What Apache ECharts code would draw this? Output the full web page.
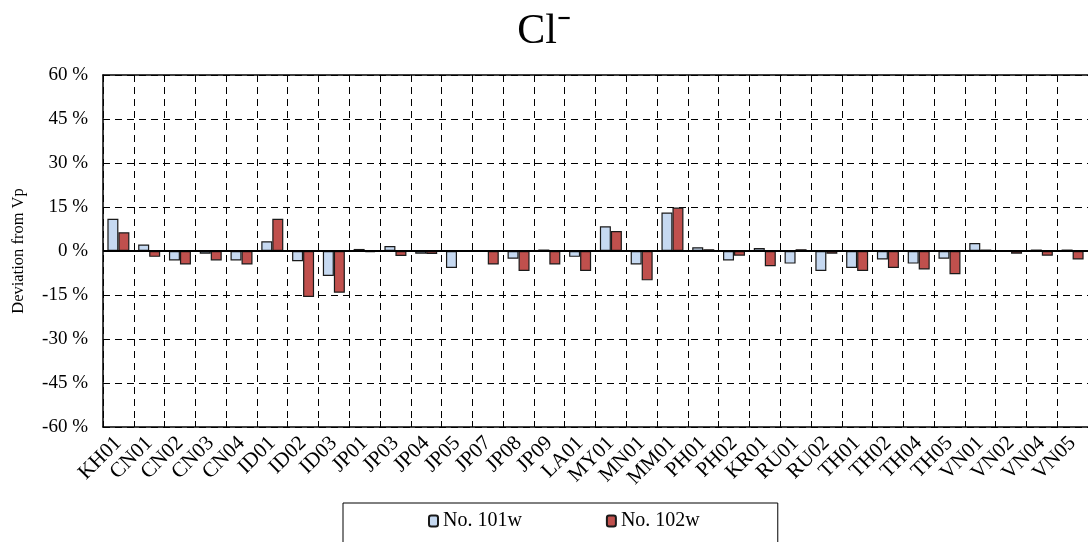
<!DOCTYPE html>
<html><head><meta charset="utf-8">
<script src="https://cdn.jsdelivr.net/npm/echarts@6/dist/echarts.min.js"></script>
<style>html,body{margin:0;padding:0;background:#fff}#c{width:1088px;height:542px}</style>
</head><body><div id="c"></div>
<script>
const categories = ["KH01","CN01","CN02","CN03","CN04","ID01","ID02","ID03","JP01","JP03","JP04","JP05","JP07","JP08","JP09","LA01","MY01","MN01","MM01","PH01","PH02","KR01","RU01","RU02","TH01","TH02","TH04","TH05","VN01","VN02","VN04","VN05"];
const no101w = [11.0, 2.2, -3.2, -0.9, -3.2, 3.3, -3.5, -8.5, 0.7, 1.7, -0.9, -5.8, -0.3, -2.6, 0.5, -2.0, 8.4, -4.6, 13.1, 1.3, -3.2, 1.0, -4.3, -6.8, -5.8, -2.9, -4.3, -2.6, 2.7, -0.3, 0.5, 0.5];
const no102w = [6.4, -2.0, -4.6, -3.2, -4.6, 11.0, -15.7, -14.2, -0.4, -1.7, -1.0, -0.1, -4.6, -6.8, -4.6, -6.8, 6.8, -10.0, 14.8, 0.6, -1.6, -5.2, 0.6, -0.9, -6.8, -5.8, -6.3, -7.9, 0.5, -0.9, -1.6, -2.9];
const seriesNames = ["No. 101w", "No. 102w"];
const yMin = -60, yMax = 60, yStep = 15;

const serif = "'Liberation Serif','Times New Roman',serif";
const chart = echarts.init(document.getElementById('c'));
chart.setOption({
  animation: false,
  backgroundColor: '#fff',
  title: {
    text: 'Cl⁻',
    left: 'center',
    top: 6,
    textStyle: {fontFamily: serif, fontSize: 42, fontWeight: 'normal', color: '#000'}
  },
  legend: {
    data: seriesNames,
    left: 343,
    top: 503,
    padding: [8, 78, 30, 85],
    itemGap: 84,
    itemWidth: 9,
    itemHeight: 11,
    borderColor: '#000',
    borderWidth: 1,
    backgroundColor: '#fff',
    textStyle: {fontFamily: serif, fontSize: 20, color: '#000'}
  },
  grid: {
    left: 103, top: 75, right: -3, height: 352, show: false
  },
  xAxis: [{
    type: 'category',
    data: categories,
    position: 'bottom',
    axisLine: {show: true, onZero: false, lineStyle: {color: '#000', width: 1.5}},
    axisTick: {show: true, inside: true, length: 6, lineStyle: {color: '#000'}},
    splitLine: {show: true, interval: 0, lineStyle: {color: '#000', type: [7, 5], width: 1}},
    axisLabel: {interval: 0, rotate: 45, margin: 13, fontFamily: serif, fontSize: 21, color: '#000'}
  }, {
    type: 'category',
    data: categories,
    position: 'top',
    axisLine: {show: true, onZero: false, lineStyle: {color: '#000', width: 1.5}},
    axisTick: {show: false},
    axisLabel: {show: false},
    splitLine: {show: false}
  }],
  yAxis: {
    type: 'value',
    min: yMin, max: yMax, interval: yStep,
    name: 'Deviation from Vp',
    nameLocation: 'middle',
    nameGap: 76,
    nameRotate: 90,
    nameTextStyle: {fontFamily: serif, fontSize: 16.5, color: '#000'},
    axisLine: {show: true, lineStyle: {color: '#000', width: 1.5}},
    axisTick: {show: false},
    splitLine: {show: true, lineStyle: {color: '#000', type: [7, 5], width: 1}},
    axisLabel: {formatter: '{value} %', margin: 15, fontFamily: serif, fontSize: 19, color: '#000'}
  },
  series: [
    {
      name: seriesNames[0], type: 'bar', data: no101w,
      barWidth: 11, barGap: '0%',
      itemStyle: {color: '#c6d9f1', borderColor: '#1a1a1a', borderWidth: 1.2},
      markLine: {
        silent: true, symbol: 'none', label: {show: false},
        lineStyle: {color: '#000', type: 'solid', width: 2},
        data: [{yAxis: 0}]
      },
      z: 3
    },
    {
      name: seriesNames[1], type: 'bar', data: no102w,
      barWidth: 11, barGap: '0%',
      itemStyle: {color: '#c0504d', borderColor: '#1a1a1a', borderWidth: 1.2},
      z: 3
    }
  ]
});
</script></body></html>
